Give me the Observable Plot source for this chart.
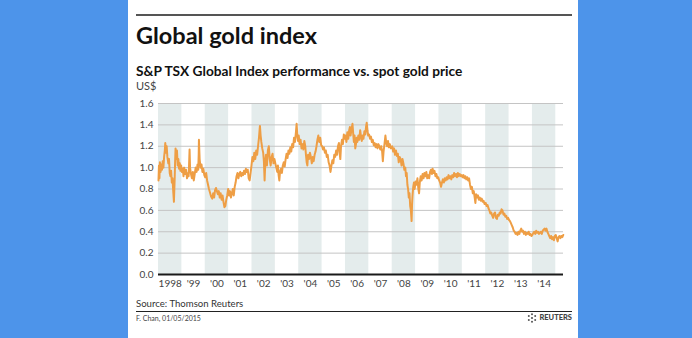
<!DOCTYPE html>
<html>
<head>
<meta charset="utf-8">
<script src="https://cdn.jsdelivr.net/npm/d3@7"></script>
<script src="https://cdn.jsdelivr.net/npm/@observablehq/plot@0.6"></script>
<style>
  html, body { margin: 0; padding: 0; }
  body { width: 692px; height: 338px; background: #4d94ea; position: relative; overflow: hidden; font-family: Lato, "Noto Sans", sans-serif; }
  #panel { position: absolute; left: 128px; top: 0; width: 450px; height: 338px; background: #fff; }
  .abs { position: absolute; white-space: nowrap; line-height: 1; }
  #toprule { position: absolute; left: 8px; top: 14px; width: 436px; height: 2px; background: #555; }
  #title { left: 8px; top: 24.2px; font-size: 23.5px; font-weight: 700; color: #111; }
  #subtitle { left: 8px; top: 63.9px; font-size: 13.7px; font-weight: 700; color: #111; }
  #unit { left: 8px; top: 80.2px; font-size: 11px; color: #444; }
  #chart { position: absolute; left: 0; top: 95px; }
  #source { left: 8px; top: 299.3px; font-size: 9.6px; color: #333; }
  #footrule { position: absolute; left: 8px; top: 310.5px; width: 436px; height: 1.5px; background: #222; }
  #credit { left: 8px; top: 314.6px; font-size: 7px; color: #444; }
  #logo { right: 6px; top: 313px; font-size: 7.5px; font-weight: 900; color: #444; display: flex; align-items: center; gap: 2px; }
</style>
</head>
<body>
<div id="panel">
  <div id="toprule"></div>
  <div class="abs" id="title">Global gold index</div>
  <div class="abs" id="subtitle">S&amp;P TSX Global Index performance vs. spot gold price</div>
  <div class="abs" id="unit">US$</div>
  <div id="chart"></div>
  <div class="abs" id="source">Source: Thomson Reuters</div>
  <div id="footrule"></div>
  <div class="abs" id="credit">F. Chan, 01/05/2015</div>
  <div class="abs" id="logo">
    <svg width="10" height="10" viewBox="0 0 10 10">
      <circle cx="5" cy="1.3" r="1" fill="#555"/><circle cx="8.2" cy="3.1" r="1" fill="#555"/>
      <circle cx="8.2" cy="6.9" r="1" fill="#555"/><circle cx="5" cy="8.7" r="1" fill="#555"/>
      <circle cx="1.8" cy="6.9" r="1" fill="#555"/><circle cx="1.8" cy="3.1" r="1" fill="#555"/>
      <circle cx="5" cy="5" r="1.1" fill="#555"/>
    </svg>
    <span>REUTERS</span>
  </div>
</div>
<script>
// Index performance vs. spot gold price (decimal year, ratio)
const ratio1998_2001 = [
  [1998.00,0.88],[1998.02,1.02],[1998.04,0.90],[1998.06,1.05],[1998.09,0.96],[1998.12,1.03],[1998.15,0.98],[1998.18,1.06],[1998.21,1.00],[1998.24,1.10],[1998.27,1.16],[1998.29,1.23],[1998.32,1.14],[1998.35,1.20],[1998.38,1.10],[1998.42,1.04],[1998.45,1.08],[1998.48,0.95],[1998.51,0.92],[1998.54,0.97],[1998.57,0.86],[1998.60,0.90],[1998.63,0.78],[1998.66,0.68],[1998.69,0.88],[1998.71,1.05],[1998.73,1.18],[1998.76,1.08],[1998.79,1.16],[1998.82,1.02],[1998.85,1.08],[1998.88,0.99],[1998.91,1.04],[1998.94,0.97],[1998.97,1.02],
  [1999.00,0.96],[1999.04,0.99],[1999.07,0.92],[1999.10,1.00],[1999.14,0.94],[1999.18,0.98],[1999.22,0.90],[1999.26,0.95],[1999.29,0.92],[1999.31,1.04],[1999.33,1.17],[1999.35,1.00],[1999.39,0.94],[1999.43,0.90],[1999.47,0.96],[1999.51,0.88],[1999.55,0.94],[1999.59,1.00],[1999.63,0.96],[1999.67,1.03],[1999.70,0.98],[1999.72,1.12],[1999.73,1.26],[1999.76,1.08],[1999.80,1.00],[1999.84,1.03],[1999.88,0.96],[1999.92,0.99],[1999.96,0.93],
  [2000.00,0.91],[2000.04,0.95],[2000.08,0.88],[2000.12,0.84],[2000.16,0.80],[2000.20,0.77],[2000.25,0.73],[2000.30,0.71],[2000.34,0.76],[2000.38,0.72],[2000.42,0.79],[2000.46,0.81],[2000.50,0.78],[2000.54,0.75],[2000.58,0.78],[2000.62,0.72],[2000.66,0.76],[2000.70,0.70],[2000.74,0.74],[2000.78,0.68],[2000.82,0.63],[2000.86,0.64],[2000.90,0.70],[2000.94,0.74],[2000.98,0.80],
  [2001.02,0.74],[2001.06,0.78],[2001.10,0.72],[2001.14,0.76],[2001.18,0.80],[2001.22,0.74],[2001.26,0.82],[2001.30,0.86],[2001.34,0.92],[2001.38,0.95],[2001.42,0.90],[2001.46,0.94],[2001.50,0.96],[2001.54,0.92],[2001.58,0.95],[2001.62,0.93],[2001.66,0.97],[2001.70,0.94],[2001.74,0.99],[2001.78,0.96],[2001.82,0.98],[2001.86,0.90],[2001.90,0.88],[2001.94,0.95],[2001.98,1.02]
];
const ratio2002_2005 = [
  [2002.02,1.10],[2002.06,1.06],[2002.10,1.14],[2002.14,1.08],[2002.18,1.16],[2002.22,1.12],[2002.26,1.20],[2002.30,1.28],[2002.34,1.39],[2002.37,1.30],[2002.40,1.24],[2002.44,1.18],[2002.48,1.14],[2002.51,1.06],[2002.54,0.88],[2002.57,1.05],[2002.60,1.12],[2002.64,1.02],[2002.68,1.16],[2002.72,1.20],[2002.76,1.08],[2002.80,1.02],[2002.84,1.10],[2002.88,1.13],[2002.92,1.04],[2002.96,1.08],
  [2003.00,1.04],[2003.04,1.00],[2003.08,0.96],[2003.11,1.02],[2003.14,0.93],[2003.17,0.88],[2003.20,0.96],[2003.24,0.99],[2003.28,0.95],[2003.32,1.02],[2003.36,1.05],[2003.40,1.01],[2003.44,1.08],[2003.48,1.13],[2003.52,1.09],[2003.56,1.16],[2003.60,1.13],[2003.64,1.19],[2003.68,1.15],[2003.72,1.22],[2003.76,1.19],[2003.80,1.28],[2003.84,1.24],[2003.88,1.33],[2003.91,1.41],[2003.94,1.30],[2003.97,1.25],
  [2004.00,1.30],[2004.04,1.22],[2004.08,1.26],[2004.12,1.18],[2004.16,1.22],[2004.20,1.17],[2004.24,1.25],[2004.28,1.20],[2004.31,1.12],[2004.34,1.05],[2004.37,1.02],[2004.40,1.12],[2004.44,1.08],[2004.48,1.14],[2004.52,1.10],[2004.56,1.04],[2004.60,1.10],[2004.64,1.06],[2004.68,1.12],[2004.72,1.15],[2004.76,1.20],[2004.80,1.26],[2004.84,1.30],[2004.88,1.24],[2004.92,1.28],[2004.96,1.21],
  [2005.00,1.20],[2005.04,1.17],[2005.08,1.19],[2005.12,1.14],[2005.16,1.16],[2005.20,1.10],[2005.24,1.12],[2005.28,1.05],[2005.32,1.02],[2005.36,0.96],[2005.40,1.02],[2005.44,1.07],[2005.48,1.04],[2005.52,1.12],[2005.56,1.10],[2005.60,1.16],[2005.64,1.12],[2005.68,1.20],[2005.72,1.23],[2005.75,1.14],[2005.78,1.08],[2005.81,1.20],[2005.85,1.26],[2005.89,1.22],[2005.93,1.31],[2005.97,1.27]
];
const ratio2006_2009 = [
  [2006.00,1.30],[2006.04,1.24],[2006.08,1.33],[2006.12,1.27],[2006.16,1.35],[2006.19,1.38],[2006.22,1.30],[2006.26,1.36],[2006.30,1.41],[2006.33,1.32],[2006.36,1.24],[2006.39,1.30],[2006.42,1.18],[2006.45,1.22],[2006.48,1.28],[2006.51,1.24],[2006.55,1.30],[2006.59,1.26],[2006.63,1.35],[2006.66,1.30],[2006.70,1.25],[2006.73,1.30],[2006.77,1.27],[2006.81,1.34],[2006.85,1.31],[2006.88,1.38],[2006.91,1.42],[2006.94,1.35],[2006.97,1.30],
  [2007.01,1.31],[2007.05,1.27],[2007.09,1.29],[2007.13,1.24],[2007.17,1.26],[2007.21,1.21],[2007.25,1.23],[2007.29,1.19],[2007.33,1.22],[2007.37,1.18],[2007.41,1.22],[2007.45,1.20],[2007.49,1.17],[2007.53,1.20],[2007.57,1.15],[2007.60,1.06],[2007.63,1.15],[2007.67,1.22],[2007.71,1.30],[2007.74,1.24],[2007.78,1.20],[2007.82,1.25],[2007.86,1.19],[2007.90,1.22],[2007.94,1.18],
  [2008.00,1.20],[2008.04,1.15],[2008.08,1.18],[2008.12,1.12],[2008.16,1.16],[2008.20,1.11],[2008.24,1.13],[2008.28,1.05],[2008.32,1.10],[2008.36,1.08],[2008.40,1.02],[2008.44,1.08],[2008.48,1.04],[2008.52,0.98],[2008.56,1.00],[2008.59,0.92],[2008.62,0.95],[2008.65,0.84],[2008.68,0.80],[2008.71,0.72],[2008.74,0.76],[2008.77,0.64],[2008.80,0.60],[2008.83,0.50],[2008.85,0.66],[2008.87,0.74],[2008.90,0.82],[2008.93,0.86],[2008.96,0.80],
  [2009.00,0.87],[2009.04,0.84],[2009.08,0.90],[2009.12,0.80],[2009.15,0.76],[2009.18,0.86],[2009.22,0.92],[2009.26,0.88],[2009.30,0.94],[2009.34,0.90],[2009.38,0.95],[2009.42,0.92],[2009.46,0.96],[2009.50,0.90],[2009.54,0.93],[2009.58,0.90],[2009.62,0.96],[2009.66,0.98],[2009.70,0.94],[2009.73,0.99],[2009.77,0.95],[2009.81,0.97],[2009.85,0.92],[2009.89,0.94],[2009.93,0.90],[2009.97,0.91]
];
const ratio2010_2015 = [
  [2010.01,0.88],[2010.05,0.86],[2010.09,0.82],[2010.13,0.86],[2010.17,0.89],[2010.21,0.86],[2010.25,0.90],[2010.29,0.88],[2010.33,0.91],[2010.37,0.89],[2010.41,0.93],[2010.45,0.90],[2010.49,0.92],[2010.53,0.89],[2010.57,0.93],[2010.61,0.91],[2010.65,0.95],[2010.69,0.92],[2010.73,0.94],[2010.77,0.91],[2010.81,0.95],[2010.85,0.92],[2010.89,0.94],[2010.93,0.92],[2010.97,0.93],
  [2011.01,0.91],[2011.05,0.93],[2011.09,0.90],[2011.13,0.92],[2011.17,0.89],[2011.21,0.91],[2011.25,0.88],[2011.29,0.90],[2011.33,0.84],[2011.37,0.80],[2011.41,0.82],[2011.45,0.76],[2011.49,0.78],[2011.53,0.72],[2011.56,0.67],[2011.59,0.75],[2011.63,0.72],[2011.67,0.74],[2011.71,0.70],[2011.75,0.72],[2011.79,0.69],[2011.83,0.71],[2011.87,0.68],[2011.91,0.69],[2011.95,0.66],
  [2012.00,0.67],[2012.04,0.64],[2012.08,0.65],[2012.12,0.62],[2012.16,0.60],[2012.20,0.57],[2012.24,0.58],[2012.28,0.55],[2012.32,0.53],[2012.36,0.57],[2012.40,0.58],[2012.44,0.53],[2012.48,0.52],[2012.52,0.56],[2012.56,0.55],[2012.60,0.58],[2012.64,0.57],[2012.68,0.61],[2012.72,0.60],[2012.76,0.56],[2012.80,0.57],[2012.84,0.54],[2012.88,0.55],[2012.92,0.52],[2012.96,0.53],
  [2013.00,0.51],[2013.04,0.50],[2013.08,0.48],[2013.12,0.46],[2013.16,0.44],[2013.20,0.41],[2013.24,0.40],[2013.28,0.38],[2013.32,0.39],[2013.36,0.37],[2013.40,0.40],[2013.44,0.38],[2013.48,0.41],[2013.52,0.43],[2013.56,0.40],[2013.60,0.41],[2013.64,0.38],[2013.68,0.40],[2013.72,0.37],[2013.76,0.39],[2013.80,0.38],[2013.84,0.40],[2013.88,0.37],[2013.92,0.38],[2013.96,0.36],
  [2014.00,0.37],[2014.04,0.39],[2014.08,0.40],[2014.12,0.38],[2014.16,0.41],[2014.20,0.39],[2014.24,0.40],[2014.28,0.38],[2014.32,0.39],[2014.36,0.40],[2014.40,0.38],[2014.44,0.41],[2014.48,0.42],[2014.52,0.43],[2014.56,0.41],[2014.60,0.43],[2014.64,0.40],[2014.68,0.38],[2014.72,0.36],[2014.76,0.34],[2014.80,0.36],[2014.84,0.33],[2014.88,0.35],[2014.92,0.32],[2014.96,0.36],
  [2015.00,0.37],[2015.04,0.34],[2015.08,0.31],[2015.12,0.35],[2015.16,0.36],[2015.20,0.34],[2015.24,0.36],[2015.28,0.35],[2015.32,0.37]
];
const tickYears = [1998,1999,2000,2001,2002,2003,2004,2005,2006,2007,2008,2009,2010,2011,2012,2013,2014];
const yearLabels = ["1998","'99","'00","'01","'02","'03","'04","'05","'06","'07","'08","'09","'10","'11","'12","'13","'14"];
const bandYears = [1998,2000,2002,2004,2006,2008,2010,2012,2014];
const yTicks = [0,0.2,0.4,0.6,0.8,1.0,1.2,1.4,1.6];
const xDomain = [1998, 2015.33];

const series = [...ratio1998_2001, ...ratio2002_2005, ...ratio2006_2009, ...ratio2010_2015];
const labelOf = new Map(tickYears.map((y, i) => [y, yearLabels[i]]));

const chart = Plot.plot({
  width: 450,
  height: 200,
  marginLeft: 30,
  marginRight: 15,
  marginTop: 8,
  marginBottom: 21,
  style: {fontFamily: "Lato, sans-serif", fontSize: "10px", background: "transparent", overflow: "visible"},
  x: {domain: xDomain},
  y: {domain: [0, 1.6]},
  marks: [
    Plot.rect(bandYears, {x1: d => d, x2: d => d + 1, y1: 0, y2: 1.6, fill: "#e4ecec"}),
    Plot.ruleY(yTicks.filter(d => d > 0), {stroke: "#c4c4c4", strokeWidth: 1}),
    Plot.line(series, {x: d => d[0], y: d => d[1], stroke: "#ee9e45", strokeWidth: 2, strokeLinejoin: "round"}),
    Plot.ruleY([0], {stroke: "#1a1a1a", strokeWidth: 2}),
    Plot.axisY(yTicks, {tickSize: 0, tickPadding: 5, tickFormat: d3.format(".1f"), fill: "#444", label: null}),
    Plot.axisX(tickYears.map(y => y + 0.5), {tickSize: 0, tickPadding: 5, tickFormat: d => labelOf.get(Math.round(d - 0.5)), fill: "#444", label: null})
  ]
});
document.getElementById("chart").appendChild(chart);
</script>
</body>
</html>
